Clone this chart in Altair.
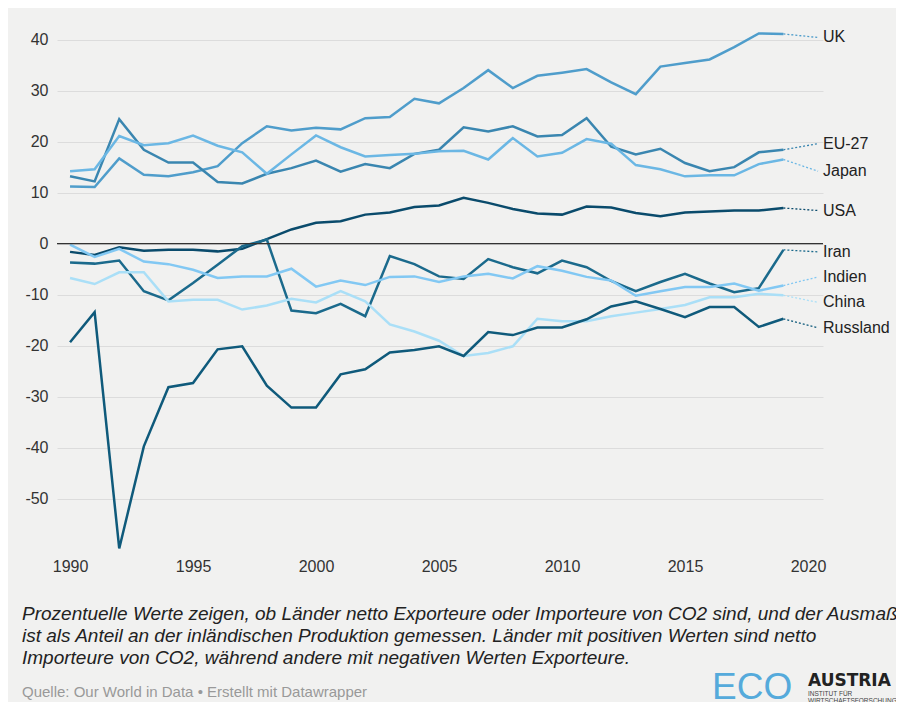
import altair as alt
import pandas as pd

years = list(range(1990, 2020))
countries = ["UK", "EU-27", "Japan", "USA", "Iran", "Indien", "China", "Russland"]

uk = [11.2, 11.1, 16.7, 13.5, 13.2, 14.0, 15.2, 19.7, 23.0, 22.2, 22.7, 22.4, 24.6, 24.8, 28.4,
      27.5, 30.5, 34.0, 30.5, 32.9, 33.5, 34.2, 31.6, 29.3, 34.7, 35.4, 36.1, 38.5, 41.2, 41.1]
eu27 = [13.2, 12.2, 24.4, 18.4, 15.9, 15.9, 12.1, 11.8, 13.7, 14.8, 16.3, 14.1, 15.6, 14.8, 17.6,
        18.4, 22.8, 22.0, 23.0, 21.0, 21.3, 24.6, 19.0, 17.5, 18.6, 15.8, 14.2, 15.0, 17.9, 18.4]
japan = [14.2, 14.6, 21.1, 19.3, 19.7, 21.2, 19.2, 17.9, 13.7, 17.5, 21.2, 18.9, 17.1, 17.4, 17.6,
         18.1, 18.2, 16.5, 20.7, 17.1, 17.8, 20.5, 19.6, 15.4, 14.6, 13.2, 13.4, 13.4, 15.6, 16.5]
usa = [-1.6, -2.2, -0.7, -1.4, -1.2, -1.2, -1.5, -1.0, 0.9, 2.8, 4.1, 4.4, 5.7, 6.1, 7.2,
       7.5, 9.0, 8.0, 6.8, 5.9, 5.7, 7.3, 7.1, 6.0, 5.4, 6.1, 6.3, 6.5, 6.5, 7.0]
iran = [-3.7, -3.9, -3.3, -9.3, -11.1, -7.7, -4.1, -0.5, 0.8, -13.1, -13.6, -11.8, -14.2, -2.4, -4.0,
        -6.4, -6.9, -3.0, -4.6, -5.8, -3.3, -4.6, -7.3, -9.3, -7.5, -5.9, -7.8, -9.5, -8.7, -1.2]
indien = [-0.2, -2.6, -1.0, -3.5, -4.0, -5.1, -6.7, -6.4, -6.4, -4.9, -8.4, -7.2, -8.1, -6.5, -6.4,
          -7.5, -6.4, -5.9, -6.8, -4.4, -5.3, -6.5, -7.2, -10.2, -9.3, -8.5, -8.5, -7.8, -9.2, -8.2]
china = [-6.7, -7.9, -5.6, -5.6, -11.3, -11.0, -11.0, -12.9, -12.1, -10.8, -11.5, -9.3, -11.3, -15.8, -17.2,
         -19.0, -22.0, -21.4, -20.1, -14.7, -15.2, -15.2, -14.2, -13.5, -12.8, -12.0, -10.5, -10.5, -9.8, -10.1]
russland = [-19.3, -13.4, -59.7, -39.7, -28.1, -27.3, -20.7, -20.1, -27.8, -32.1, -32.1, -25.6, -24.6, -21.3, -20.8,
            -20.1, -22.0, -17.3, -17.9, -16.4, -16.4, -14.8, -12.3, -11.3, -12.8, -14.4, -12.4, -12.4, -16.3, -14.7]

series = [uk, eu27, japan, usa, iran, indien, china, russland]
colors = ["#4f9dcb", "#3a86b0", "#6bb7e4", "#0a4b6c", "#1b6a8c", "#82c8f3", "#aadff7", "#0f5a7b"]
label_values = [40.4, 19.6, 14.2, 6.5, -1.6, -6.5, -11.5, -16.5]

x_ticks = [1990, 1995, 2000, 2005, 2010, 2015, 2020]
y_ticks = [-50, -40, -30, -20, -10, 0, 10, 20, 30, 40]

footnote = (
    "Prozentuelle Werte zeigen, ob Länder netto Exporteure oder Importeure von CO2 sind, und der Ausmaß\n"
    "ist als Anteil an der inländischen Produktion gemessen. Länder mit positiven Werten sind netto\n"
    "Importeure von CO2, während andere mit negativen Werten Exporteure."
)
source = "Quelle: Our World in Data • Erstellt mit Datawrapper"

rows = []
for c, vals in zip(countries, series):
    for yr, v in zip(years, vals):
        rows.append({"country": c, "year": yr, "value": v})
df = pd.DataFrame(rows)

lab = pd.DataFrame({
    "country": countries,
    "x0": [years[-1]] * len(countries),
    "y0": [s[-1] for s in series],
    "x1": [2020.41] * len(countries),
    "xt": [2020.61] * len(countries),
    "ylab": label_values,
})

FONT = "Liberation Sans"
xs = alt.Scale(domain=[1989.47, 2020.61], nice=False, zero=False)
ys = alt.Scale(domain=[-60, 45], nice=False, zero=False)
x_axis = alt.Axis(values=x_ticks, format="d", grid=False, ticks=False, domain=False,
                  labelPadding=8, labelFontSize=16, labelColor="#333", labelFont=FONT, title=None)
y_axis = alt.Axis(values=y_ticks, grid=True, gridColor="#dcdcdc", gridWidth=1, ticks=False,
                  domain=False, labelPadding=9, labelFontSize=16, labelColor="#333", labelFont=FONT,
                  labelExpr="'' + datum.value", title=None)
cscale = alt.Scale(domain=countries, range=colors)

lines = alt.Chart(df).mark_line(strokeWidth=2.5).encode(
    x=alt.X("year:Q", scale=xs, axis=x_axis),
    y=alt.Y("value:Q", scale=ys, axis=y_axis),
    color=alt.Color("country:N", scale=cscale, legend=None),
    detail="country:N",
)

zero = alt.Chart(pd.DataFrame({"z": [0]})).mark_rule(color="#333", strokeWidth=1.3).encode(
    y=alt.Y("z:Q", scale=ys, axis=y_axis)
)

connectors = alt.Chart(lab).mark_rule(strokeDash=[2, 2], strokeWidth=1.3).encode(
    x=alt.X("x0:Q", scale=xs, axis=x_axis),
    x2="x1:Q",
    y=alt.Y("y0:Q", scale=ys, axis=y_axis),
    y2="ylab:Q",
    color=alt.Color("country:N", scale=cscale, legend=None),
)

labels = alt.Chart(lab).mark_text(align="left", baseline="middle", fontSize=16, font=FONT,
                                  color="#222").encode(
    x=alt.X("xt:Q", scale=xs, axis=x_axis),
    y=alt.Y("ylab:Q", scale=ys, axis=y_axis),
    text="country:N",
)

note = alt.Chart(pd.DataFrame({"t": [footnote]})).mark_text(
    align="left", baseline="middle", fontSize=19, font=FONT, fontStyle="italic",
    color="#222", lineBreak="\n", lineHeight=22).encode(
    x=alt.value(-35), y=alt.value(600), text="t:N")

src = alt.Chart(pd.DataFrame({"t": [source]})).mark_text(
    align="left", baseline="middle", fontSize=15, font=FONT, color="#999").encode(
    x=alt.value(-35), y=alt.value(678), text="t:N")

eco = alt.Chart(pd.DataFrame({"t": ["ECO"]})).mark_text(
    align="left", baseline="middle", fontSize=37, font=FONT, color="#55aadb").encode(
    x=alt.value(655), y=alt.value(674), text="t:N")
austria = alt.Chart(pd.DataFrame({"t": ["AUSTRIA"]})).mark_text(
    align="left", baseline="middle", fontSize=17, font="DejaVu Sans", fontWeight="bold",
    color="#222").encode(x=alt.value(751), y=alt.value(666.5), text="t:N")
inst1 = alt.Chart(pd.DataFrame({"t": ["INSTITUT FÜR"]})).mark_text(
    align="left", baseline="middle", fontSize=6.5, font=FONT, color="#444").encode(
    x=alt.value(751), y=alt.value(679.5), text="t:N")
inst2 = alt.Chart(pd.DataFrame({"t": ["WIRTSCHAFTSFORSCHUNG"]})).mark_text(
    align="left", baseline="middle", fontSize=6.5, font=FONT, color="#444").encode(
    x=alt.value(751), y=alt.value(686.5), text="t:N")

chart = alt.layer(lines, zero, connectors, labels, note, src, eco, austria, inst1, inst2).properties(
    width=766,
    height=536,
    autosize=alt.AutoSizeParams(type="none"),
    padding={"left": 49, "top": 6, "right": 73, "bottom": 152},
    background="#f1f1f0",
).configure_view(stroke=None)

chart.save("out.html", embed_options={"renderer": "svg", "actions": False})
